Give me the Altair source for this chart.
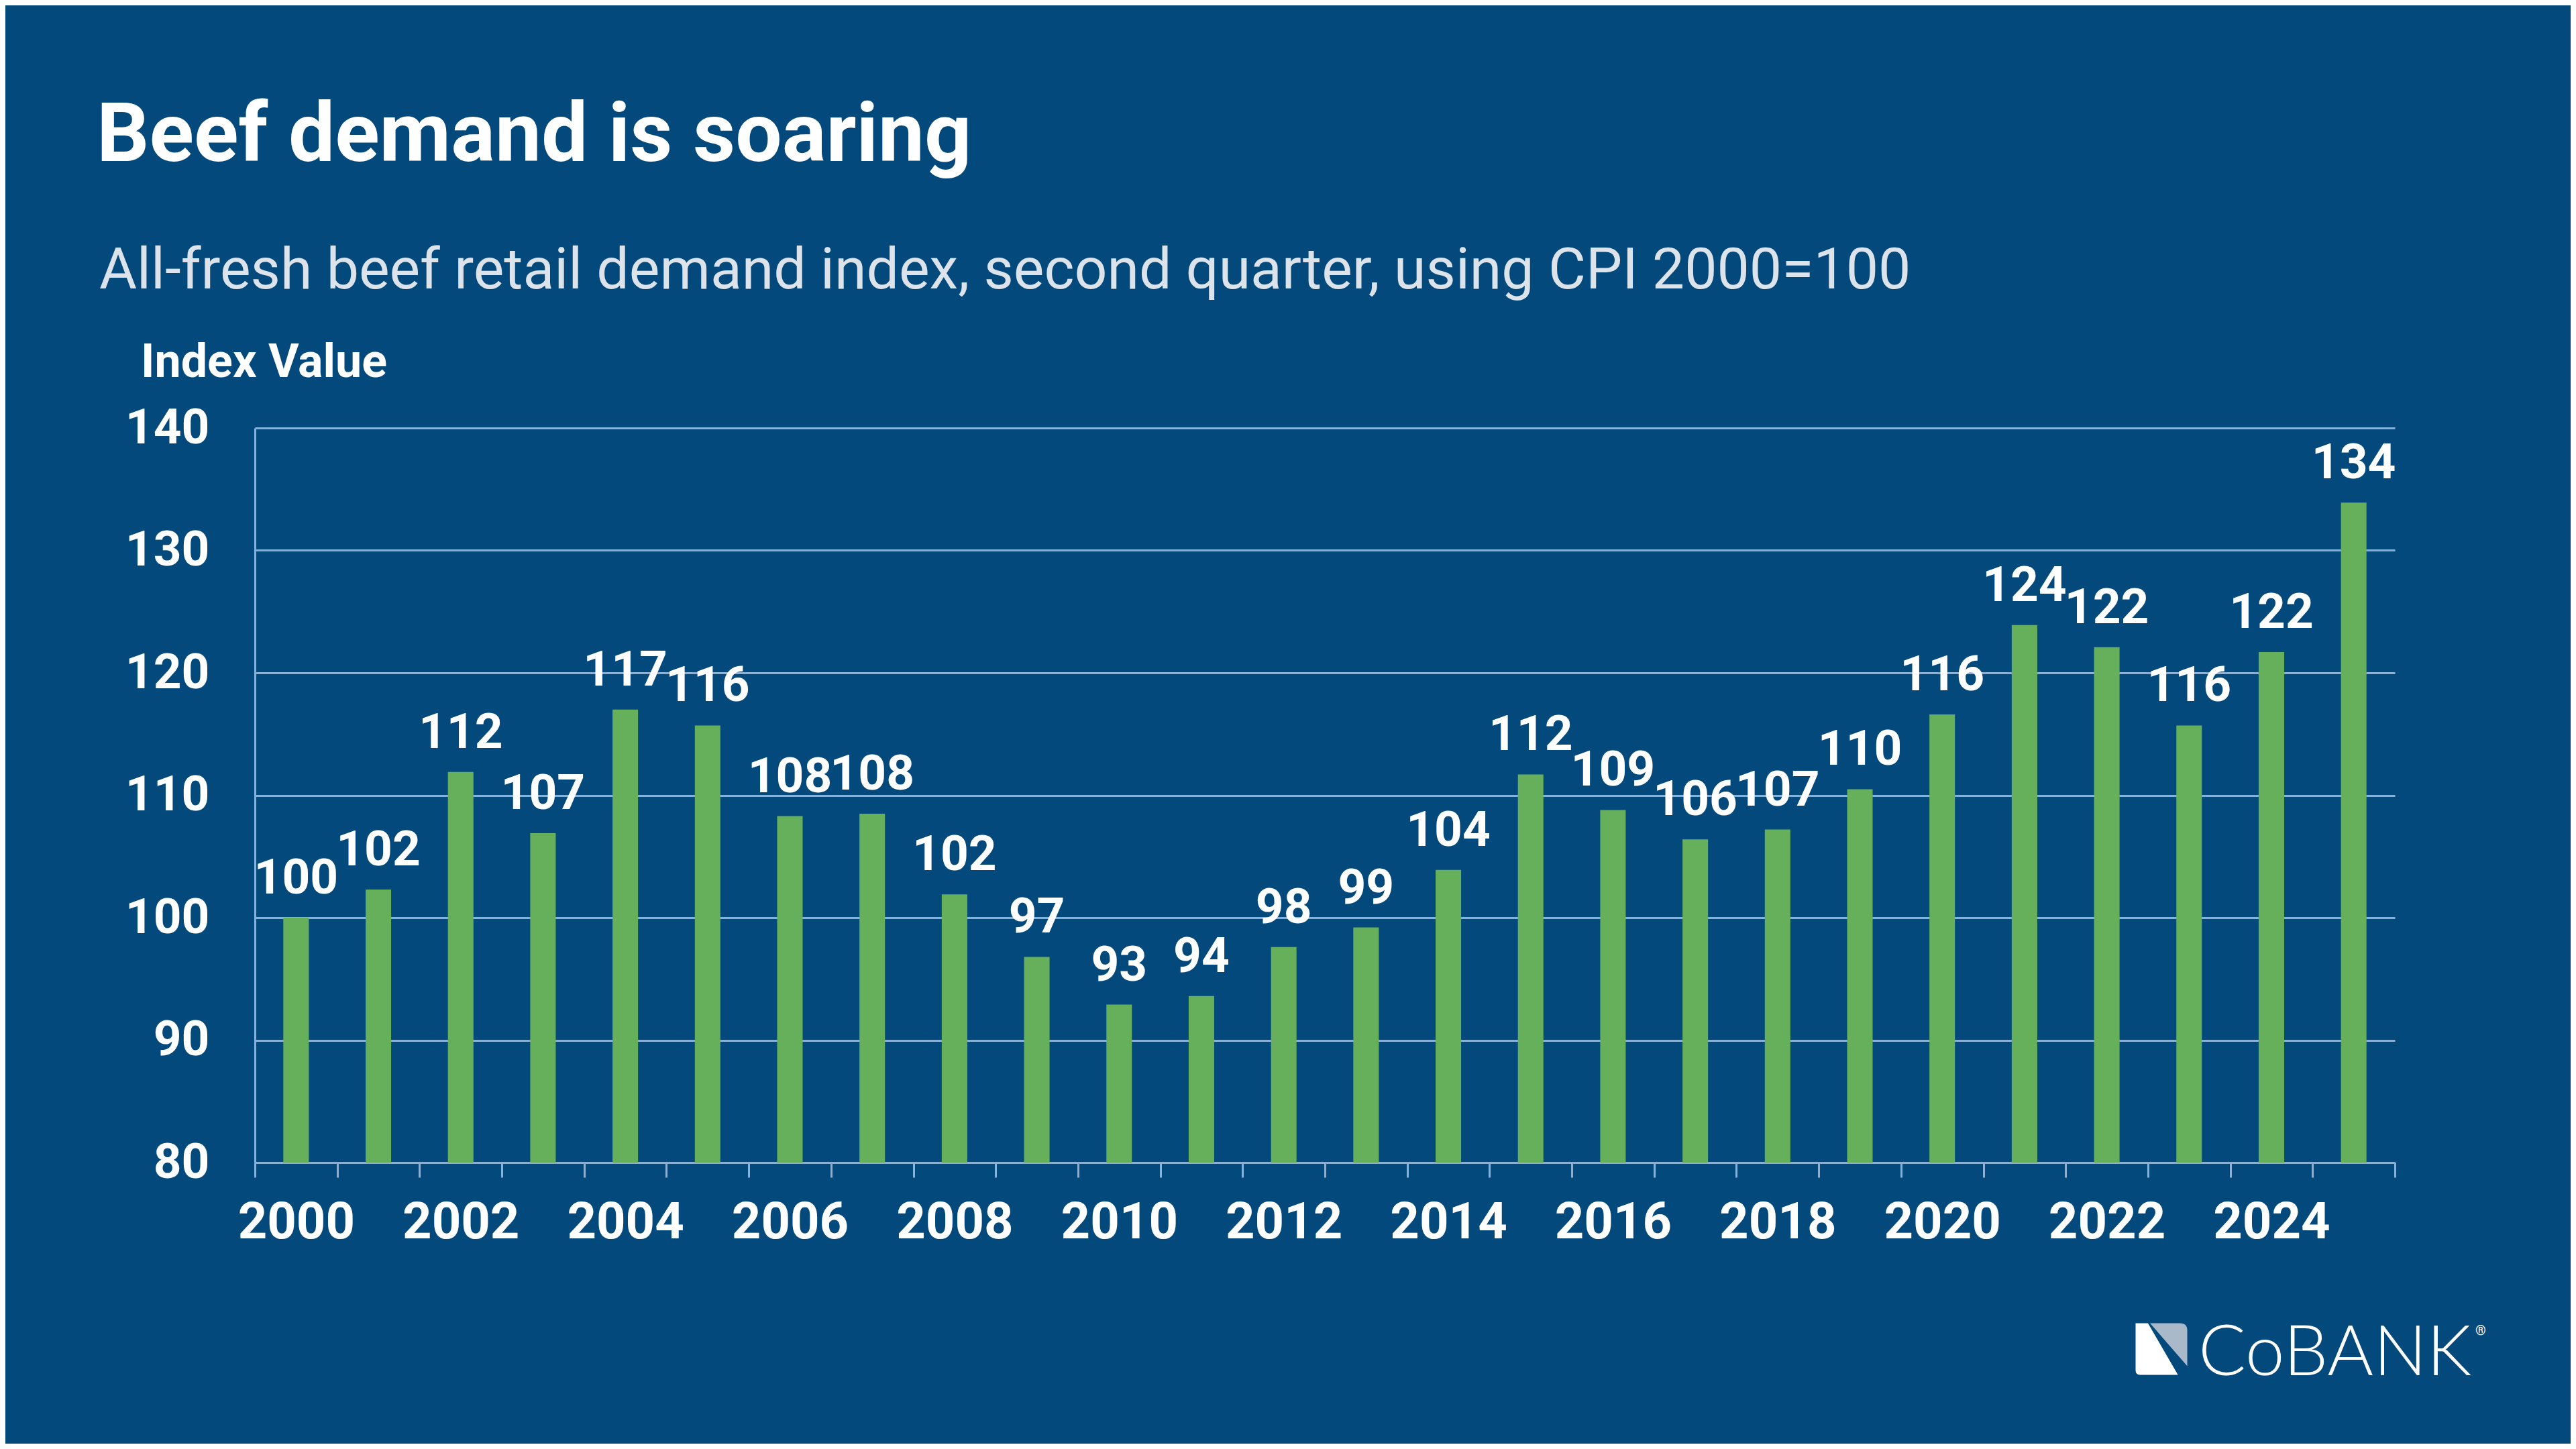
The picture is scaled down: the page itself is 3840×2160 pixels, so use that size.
import altair as alt
import pandas as pd

# ---- data ----
years = [str(y) for y in range(2000, 2026)]
values = [100.0, 102.3, 111.9, 106.9, 117.0, 115.7, 108.3, 108.5, 101.9, 96.8,
          92.9, 93.6, 97.6, 99.2, 103.9, 111.7, 108.8, 106.4, 107.2, 110.5,
          116.6, 123.9, 122.1, 115.7, 121.7, 133.9]
labels = ["100", "102", "112", "107", "117", "116", "108", "108", "102", "97",
          "93", "94", "98", "99", "104", "112", "109", "106", "107", "110",
          "116", "124", "122", "116", "122", "134"]
y_ticks = [80, 90, 100, 110, 120, 130, 140]
y_min = 80

title_text = "Beef demand is soaring"
subtitle_text = "All-fresh beef retail demand index, second quarter, using CPI 2000=100"
axis_title_text = "Index Value"
logo_text = "CoBANK"

# ---- styling ----
BG = "#03497B"
GREEN = "#66B05C"
GRID = "#8AB0D6"
WHITE = "#FFFFFF"
SUB = "#DCE3EB"
FONT = "Roboto"

W, H = 3190, 1095
PAD = {"left": 372, "top": 630, "right": 262, "bottom": 419}

df = pd.DataFrame({"year": years, "value": values, "label": labels})

xenc = alt.X(
    "year:O",
    title=None,
    scale=alt.Scale(paddingInner=0, paddingOuter=0),
    axis=alt.Axis(
        labelExpr="toNumber(datum.value) % 2 == 0 ? datum.value : ''",
        labelAngle=0,
        labelOverlap=False,
        labelFont=FONT,
        labelFontSize=76,
        labelFontWeight="bold",
        labelColor=WHITE,
        labelPadding=30,
        tickBand="extent",
        tickSize=22,
        tickWidth=3,
        tickColor=GRID,
        domainColor=GRID,
        domainWidth=3,
        grid=False,
    ),
)
yenc = alt.Y(
    "value:Q",
    title=None,
    scale=alt.Scale(domain=[y_min, 140], nice=False, zero=False),
    axis=alt.Axis(
        values=y_ticks,
        labelFont=FONT,
        labelFontSize=73,
        labelFontWeight="bold",
        labelColor=WHITE,
        labelPadding=68,
        ticks=False,
        domainColor=GRID,
        domainWidth=3,
        grid=True,
        gridColor=GRID,
        gridWidth=3,
    ),
)

base = alt.Chart(df)
bars = base.mark_bar(color=GREEN, width=alt.RelativeBandSize(0.31)).encode(
    x=xenc, y=yenc, y2=alt.datum(y_min)
)
vals = base.mark_text(
    baseline="alphabetic", dy=-36, font=FONT, fontSize=73, fontWeight="bold", color=WHITE
).encode(x=xenc, y=yenc, text="label:N")


def txt(s, x, y, size, weight="normal", color=WHITE, font=FONT):
    return alt.Chart(pd.DataFrame({"t": [s]})).mark_text(
        align="left", baseline="alphabetic", font=font, fontSize=size,
        fontWeight=weight, color=color
    ).encode(x=alt.value(x), y=alt.value(y), text="t:N")


title = txt(title_text, -236, -398, 123, "bold")
subtitle = txt(subtitle_text, -232, -208, 86, "normal", SUB)
ytitle = txt(axis_title_text, -170, -76, 70, "bold")
logo = txt(logo_text, 2897, 1412, 105, 300, WHITE, "Lato")
reg = txt("\u00ae", 3310, 1352, 20, "normal", WHITE)

WHITE_PATH = "M-1,-1 L-0.52,-1 L0.64,1 L-0.82,1 Q-1,1 -1,0.82 Z"
GRAY_PATH = "M-0.44,-1 L0.72,-1 Q1,-1 1,-0.72 L1,0.66 Z"
icon_df = pd.DataFrame({"k": [0]})
icon_w = alt.Chart(icon_df).mark_point(
    shape=WHITE_PATH, filled=True, fill=WHITE, opacity=1, strokeWidth=0, size=5929
).encode(x=alt.value(2842), y=alt.value(1373))
icon_g = alt.Chart(icon_df).mark_point(
    shape=GRAY_PATH, filled=True, fill="#A9B9CA", opacity=1, strokeWidth=0, size=5929
).encode(x=alt.value(2842), y=alt.value(1373))

chart = alt.layer(bars, vals, title, subtitle, ytitle, logo, reg, icon_w, icon_g).properties(
    width=W,
    height=H,
    padding=PAD,
    autosize=alt.AutoSizeParams(type="none"),
    background=BG,
).configure_view(stroke=None)

chart.save("out.html", embed_options={"renderer": "svg", "actions": False})
